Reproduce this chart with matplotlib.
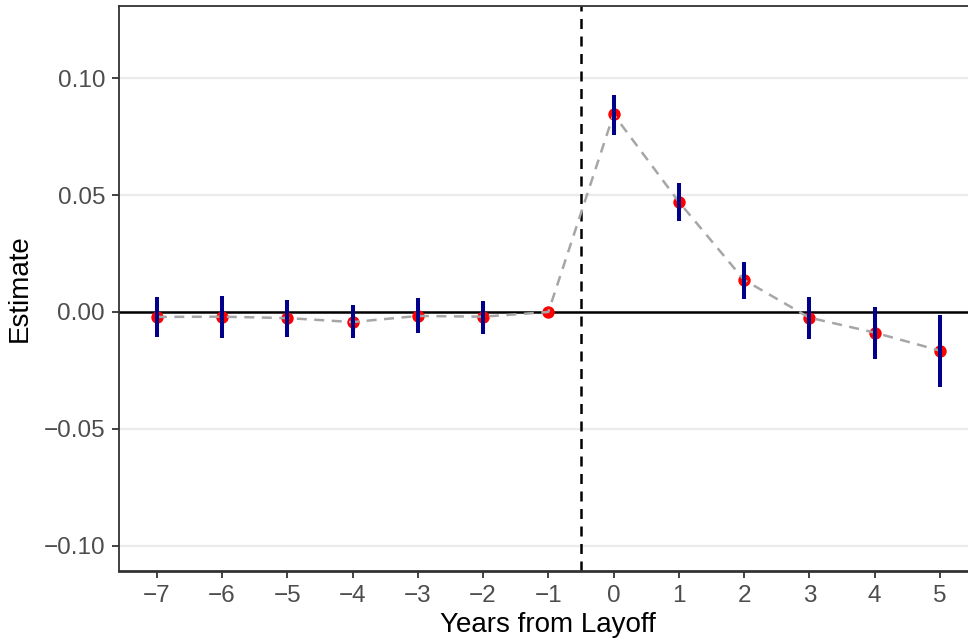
import numpy as np
import matplotlib
matplotlib.use("Agg")
import matplotlib.pyplot as plt

plt.rcParams['font.family'] = ['Liberation Sans', 'DejaVu Sans']

# event-study estimates
years = [-7, -6, -5, -4, -3, -2, -1, 0, 1, 2, 3, 4, 5]
estimate = [-0.0021, -0.0020, -0.0026, -0.0043, -0.0017, -0.0020, 0.0,
            0.0845, 0.0471, 0.0137, -0.0024, -0.0088, -0.0165]
ci_low = [-0.0106, -0.0111, -0.0107, -0.0111, -0.0090, -0.0094, np.nan,
          0.0756, 0.0389, 0.0054, -0.0115, -0.0200, -0.0319]
ci_high = [0.0064, 0.0068, 0.0051, 0.0030, 0.0058, 0.0047, np.nan,
           0.0927, 0.0550, 0.0215, 0.0065, 0.0020, -0.0012]
yticks = [-0.10, -0.05, 0.00, 0.05, 0.10]
ytick_labels = ['\u22120.10', '\u22120.05', '0.00', '0.05', '0.10']

fig = plt.figure(figsize=(9.68, 6.43), dpi=100)
ax = fig.add_axes([0.1229, 0.1120, 0.8871, 0.8787])

# grid
for yv in yticks:
    ax.axhline(yv, color='#EBEBEB', lw=1.6, zorder=0)

ax.axhline(0, color='black', lw=1.8, zorder=1)
ax.axvline(-0.5, color='black', lw=1.8, ls=(0, (4, 3)), zorder=1)

ax.scatter(years, estimate, color='red', s=80, zorder=2, linewidths=0)
ax.plot(years, estimate, color='#A6A6A6', lw=1.8, ls=(0, (4, 3)), zorder=3)
ax.vlines(years, ci_low, ci_high, color='#00008B', lw=2.9, zorder=4)

ax.set_xlim(-7.58, 5.58)
ax.set_ylim(-0.1107, 0.1308)
ax.set_xticks(years)
ax.set_xticklabels([str(y).replace('-', '\u2212') for y in years])
ax.set_yticks(yticks)
ax.set_yticklabels(ytick_labels)

ax.tick_params(axis='both', colors='#333333', length=5, width=1.3,
               labelsize=17.5, labelcolor='#4D4D4D', pad=5)
for s in ['top', 'left']:
    ax.spines[s].set_color('#333333')
    ax.spines[s].set_linewidth(1.3)
ax.spines['bottom'].set_color('#333333')
ax.spines['bottom'].set_linewidth(2.0)
ax.spines['right'].set_visible(False)

ax.set_xlabel('Years from Layoff', fontsize=20, labelpad=4)
ax.set_ylabel('Estimate', fontsize=20, labelpad=8)

fig.savefig('out.png', dpi=100)
